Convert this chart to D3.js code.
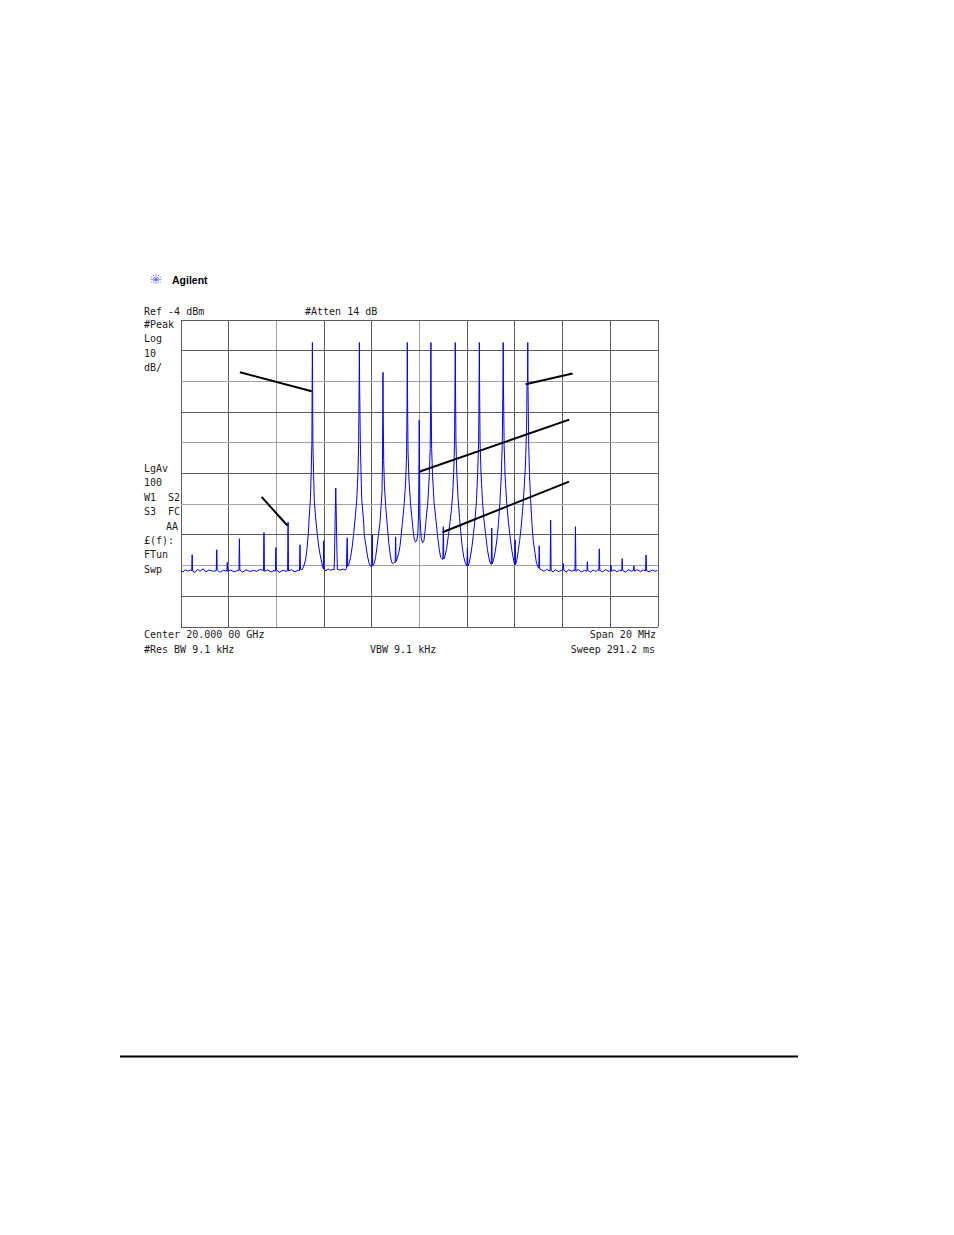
<!DOCTYPE html>
<html>
<head>
<meta charset="utf-8">
<script src="https://cdn.jsdelivr.net/npm/d3@7"></script>
<style>
  html, body { margin: 0; padding: 0; background: #fff; }
  svg { display: block; }
  .mono { font-family: "DejaVu Sans Mono", "Liberation Mono", monospace; font-size: 10px; fill: #1a1a1a; }
  .mono text { white-space: pre; }
</style>
</head>
<body>
<svg id="chart" width="954" height="1235" xml:space="preserve"></svg>
<script>
// ---- Data (frequency offset from 20.000 00 GHz centre in MHz, level in dBm) ----
const freqTicks = [-10, -8, -6, -4, -2, 0, 2, 4, 6, 8, 10];
const levelTicks = [-4, -14, -24, -34, -44, -54, -64, -74, -84, -94, -104];
const lightFreqTicks = [-6, 0];
const lightLevelTicks = [-24, -44, -64, -84];

const traceFreq = [
  -10.00,-9.90,-9.80,-9.70,-9.58,-9.53,-9.51,-9.49,-9.39,-9.28,-9.18,-9.05,-8.95,-8.80,-8.62,
  -8.50,-8.48,-8.46,-8.35,-8.20,-8.08,-8.05,-8.04,-8.02,-7.90,-7.75,-7.60,-7.55,-7.53,-7.51,
  -7.40,-7.25,-7.10,-6.95,-6.80,-6.65,-6.52,-6.50,-6.48,-6.35,-6.20,-6.08,-6.02,-6.00,-5.98,
  -5.85,-5.70,-5.58,-5.51,-5.50,-5.49,-5.47,-5.35,-5.20,-5.07,-5.01,-5.00,-4.99,-4.97,
  -4.90,-4.84,-4.78,-4.74,-4.70,-4.64,-4.60,-4.55,-4.52,-4.49,-4.48,-4.47,-4.46,-4.45,-4.42,-4.39,-4.34,-4.29,-4.22,-4.15,-4.08,-4.03,
  -4.01,-4.00,-3.98,-3.90,-3.80,-3.70,-3.60,
  -3.56,-3.54,-3.52,-3.49,-3.46,-3.44,-3.42,-3.30,-3.18,-3.08,
  -3.04,-3.03,-3.01,-2.99,
  -2.95,-2.87,-2.80,-2.75,-2.68,-2.61,-2.56,-2.53,-2.51,-2.50,-2.49,-2.46,-2.43,-2.40,-2.33,-2.29,-2.22,-2.16,-2.10,-2.04,
  -1.98,-1.96,-1.94,
  -1.88,-1.82,-1.76,-1.70,-1.64,-1.60,-1.55,-1.53,-1.52,-1.51,-1.50,-1.48,-1.45,-1.40,-1.33,-1.27,-1.20,-1.14,-1.08,-1.02,
  -1.00,-0.98,-0.96,
  -0.92,-0.85,-0.80,-0.75,-0.70,-0.66,-0.62,-0.56,-0.52,-0.50,-0.49,-0.48,-0.46,-0.42,-0.36,-0.30,-0.25,-0.20,-0.15,-0.10,-0.05,
  -0.02,0.00,0.01,0.02,0.04,
  0.09,0.15,0.21,0.26,0.31,0.37,0.43,0.47,0.49,0.50,0.51,0.53,0.57,0.63,0.70,0.78,0.85,0.91,0.97,
  1.00,1.02,1.04,
  1.09,1.16,1.23,1.30,1.36,1.41,1.46,1.49,1.51,1.52,1.53,1.55,1.58,1.64,1.70,1.76,1.82,1.88,1.95,2.00,
  2.01,2.03,2.05,
  2.10,2.16,2.22,2.28,2.35,2.41,2.46,2.50,2.52,2.53,2.54,2.56,2.60,2.66,2.72,2.80,2.87,2.94,3.00,
  3.03,3.05,3.07,
  3.12,3.20,3.27,3.33,3.39,3.45,3.49,3.52,3.53,3.54,3.57,3.61,3.68,3.75,3.83,3.90,3.97,4.01,
  4.02,4.03,4.05,
  4.10,4.16,4.22,4.28,4.34,4.40,4.46,4.51,4.53,4.55,4.56,4.57,4.60,4.64,4.69,4.74,4.79,4.86,4.93,5.00,
  5.02,5.04,5.06,5.15,5.25,5.35,5.45,
  5.50,5.51,5.52,5.54,5.62,5.72,5.85,5.97,
  6.03,6.05,6.07,6.17,6.28,6.40,6.50,
  6.54,6.56,6.58,6.68,6.80,6.95,
  7.04,7.06,7.08,7.18,7.30,7.42,7.50,
  7.54,7.56,7.58,7.70,7.82,7.95,
  8.03,8.05,8.07,8.18,8.30,8.42,
  8.50,8.52,8.54,8.65,8.78,8.92,
  8.99,9.01,9.03,9.15,9.28,9.40,
  9.50,9.52,9.54,9.65,9.78,9.90,10.00
];
const traceLevel = [
  -85.8,-86.3,-85.5,-86.0,-85.6,-85.8,-80.6,-86.0,-86.4,-85.4,-86.0,-85.2,-86.2,-85.6,-86.0,
  -85.8,-79.0,-85.6,-86.3,-85.7,-86.0,-85.5,-83.1,-86.0,-85.6,-86.2,-85.7,-85.9,-75.4,-85.6,
  -86.3,-85.5,-86.1,-85.7,-86.0,-85.4,-85.8,-73.4,-86.0,-85.6,-86.2,-85.8,-86.0,-78.3,-85.6,
  -86.3,-85.7,-86.0,-85.8,-79.5,-70.0,-85.9,-85.5,-86.2,-85.7,-85.8,-80.8,-77.4,-85.4,
  -85.5,-84.5,-83.0,-81.5,-79.0,-73.5,-68.0,-62.0,-54.0,-43.9,-25.1,-11.5,-25.1,-44.0,-54.0,-63.0,-68.0,-72.0,-77.0,-80.5,-83.0,-84.8,
  -85.2,-76.1,-85.5,-85.8,-85.3,-85.7,-85.4,
  -85.6,-80.0,-71.0,-58.9,-71.0,-80.0,-85.4,-85.6,-85.3,-85.6,
  -85.0,-80.0,-75.1,-84.5,
  -84.0,-81.5,-78.0,-74.5,-69.0,-62.8,-54.0,-44.0,-25.0,-11.5,-25.0,-44.0,-54.0,-62.8,-69.0,-74.5,-78.0,-81.0,-83.2,-84.3,
  -84.6,-74.1,-84.2,
  -83.5,-81.5,-78.0,-74.0,-70.5,-66.0,-60.0,-50.0,-35.0,-21.2,-35.0,-50.0,-58.0,-64.5,-71.0,-76.5,-81.0,-83.2,-83.5,-83.0,
  -83.2,-74.8,-82.8,
  -82.0,-80.0,-78.0,-74.5,-70.5,-67.5,-64.0,-57.0,-48.0,-30.0,-11.5,-30.0,-47.0,-56.0,-63.5,-68.5,-72.5,-75.5,-76.5,-76.2,-74.0,
  -68.0,-50.0,-36.8,-50.0,-68.0,
  -75.0,-76.7,-76.0,-72.5,-68.0,-63.5,-55.0,-46.0,-30.0,-11.5,-30.0,-46.0,-55.0,-63.5,-68.5,-74.5,-79.0,-81.5,-82.0,
  -82.2,-71.5,-82.0,
  -81.0,-78.5,-74.5,-70.0,-66.0,-61.0,-53.0,-44.0,-25.0,-11.5,-25.0,-44.0,-53.0,-62.5,-68.5,-74.0,-78.5,-81.5,-83.5,-84.2,
  -84.0,-78.3,-84.3,
  -83.5,-81.0,-78.0,-74.0,-69.0,-63.0,-54.0,-44.0,-25.0,-11.5,-25.0,-44.0,-54.0,-63.0,-69.0,-74.5,-79.0,-82.0,-83.5,
  -83.8,-71.9,-83.6,
  -82.5,-79.5,-75.5,-70.5,-64.0,-55.0,-45.0,-25.0,-11.5,-25.0,-45.0,-55.0,-64.0,-70.0,-75.5,-79.5,-82.5,-83.8,
  -84.0,-75.8,-83.8,
  -82.5,-79.5,-76.0,-72.0,-66.5,-60.0,-52.0,-40.0,-25.1,-25.1,-11.5,-25.1,-45.0,-56.0,-64.0,-71.0,-76.0,-80.0,-83.5,-84.7,
  -85.0,-77.7,-85.3,-85.6,-86.0,-85.4,-85.8,
  -85.9,-77.5,-69.3,-85.8,-86.2,-85.5,-86.1,-85.7,
  -85.9,-83.5,-85.6,-86.3,-85.5,-86.0,-85.6,
  -85.8,-71.5,-86.0,-85.4,-86.2,-85.7,
  -86.0,-82.9,-85.7,-86.3,-85.6,-86.1,-85.5,
  -85.8,-78.7,-85.7,-86.2,-85.5,-86.0,
  -85.9,-84.0,-86.0,-85.6,-86.2,-85.6,
  -85.9,-81.9,-85.7,-86.3,-85.5,-86.0,
  -85.7,-84.2,-86.0,-85.5,-86.1,-85.6,
  -85.9,-80.7,-85.8,-86.2,-85.6,-86.0,-85.7
];

// Leader lines drawn on the screen: [f1, dBm1, f2, dBm2]
const leaders = [
  [-7.51, -21.2, -4.50, -27.4],
  [-6.60, -61.8, -5.52, -71.1],
  [ 4.47, -25.1,  6.44, -21.6],
  [ 0.01, -53.6,  6.30, -36.6],
  [ 0.99, -73.3,  6.29, -56.8]
];

const leftLabels = [
  {t: "#Peak", row: 0}, {t: "Log", row: 1}, {t: "10", row: 2}, {t: "dB/", row: 3},
  {t: "LgAv", row: 10}, {t: "100", row: 11}, {t: "W1  S2", row: 12}, {t: "S3  FC", row: 13},
  {t: "AA", row: 14, right: true}, {t: "£(f):", row: 15}, {t: "FTun", row: 16}, {t: "Swp", row: 17}
];

// ---- Drawing ----
const svg = d3.select("#chart");
const pL = 180.5, pR = 657.5, pT = 319.5, pB = 626.5;
const x = d3.scaleLinear().domain([-10, 10]).range([pL, pR]);
const y = d3.scaleLinear().domain([-4, -104]).range([pT, pB]);

// grid
const grid = svg.append("g").attr("shape-rendering", "crispEdges");
grid.selectAll("line.v").data(freqTicks).join("line")
  .attr("x1", d => Math.round(x(d)) + 0.5).attr("x2", d => Math.round(x(d)) + 0.5)
  .attr("y1", pT).attr("y2", pB)
  .attr("stroke", d => lightFreqTicks.includes(d) ? "#a3a3a3" : "#5c5c5c");
grid.selectAll("line.h").data(levelTicks).join("line")
  .attr("y1", d => Math.round(y(d)) + 0.5).attr("y2", d => Math.round(y(d)) + 0.5)
  .attr("x1", pL).attr("x2", pR)
  .attr("stroke", d => lightLevelTicks.includes(d) ? "#a3a3a3" : "#5c5c5c");

// trace
svg.append("clipPath").attr("id", "plotclip").append("rect")
  .attr("x", pL).attr("y", pT).attr("width", pR - pL).attr("height", pB - pT);
const n = Math.min(traceFreq.length, traceLevel.length);
const pts = traceFreq.slice(0, n).map((f, i) => [f, traceLevel[i]]);
const line = d3.line().x(d => x(d[0])).y(d => y(d[1]));
svg.append("path").datum(pts)
  .attr("clip-path", "url(#plotclip)")
  .attr("d", line).attr("fill", "none")
  .attr("stroke", "#0000ff").attr("stroke-width", 1).attr("stroke-linejoin", "miter");

// leader lines
svg.append("g").selectAll("line").data(leaders).join("line")
  .attr("x1", d => x(d[0])).attr("y1", d => y(d[1]))
  .attr("x2", d => x(d[2])).attr("y2", d => y(d[3]))
  .attr("stroke", "#000").attr("stroke-width", 2);

// texts
const txt = svg.append("g").attr("class", "mono");
txt.append("text").attr("x", 144).attr("y", 315).text("Ref -4 dBm");
txt.append("text").attr("x", 305).attr("y", 315).text("#Atten 14 dB");
txt.selectAll("text.l").data(leftLabels).join("text")
  .attr("x", d => d.right ? 178 : 144)
  .attr("text-anchor", d => d.right ? "end" : "start")
  .attr("y", d => 328 + d.row * 14.4)
  .attr("xml:space", "preserve")
  .style("white-space", "pre")
  .text(d => d.t);
txt.append("text").attr("x", 144).attr("y", 638).text("Center 20.000 00 GHz");
txt.append("text").attr("x", 656).attr("y", 638).attr("text-anchor", "end").text("Span 20 MHz");
txt.append("text").attr("x", 144).attr("y", 653).text("#Res BW 9.1 kHz");
txt.append("text").attr("x", 370).attr("y", 653).text("VBW 9.1 kHz");
txt.append("text").attr("x", 655).attr("y", 653).attr("text-anchor", "end").text("Sweep 291.2 ms");

// logo
const logo = svg.append("g").attr("transform", "translate(156,279.5)");
[0, 30, 60, 90, 120, 150].forEach(a => {
  const r = a * Math.PI / 180;
  logo.append("line")
    .attr("x1", -5.5 * Math.cos(r)).attr("y1", -5 * Math.sin(r))
    .attr("x2", 5.5 * Math.cos(r)).attr("y2", 5 * Math.sin(r))
    .attr("stroke", "#3a3ae6").attr("stroke-width", 0.9).attr("stroke-dasharray", "1,1");
});
svg.append("text").attr("x", 172).attr("y", 284)
  .attr("font-family", "Liberation Sans, Arial, sans-serif").attr("font-weight", "bold")
  .attr("font-size", 10.5).attr("fill", "#000").text("Agilent");

// bottom rule
svg.append("line").attr("x1", 120).attr("x2", 798).attr("y1", 1056.5).attr("y2", 1056.5)
  .attr("stroke", "#000").attr("stroke-width", 2);
</script>
</body>
</html>
